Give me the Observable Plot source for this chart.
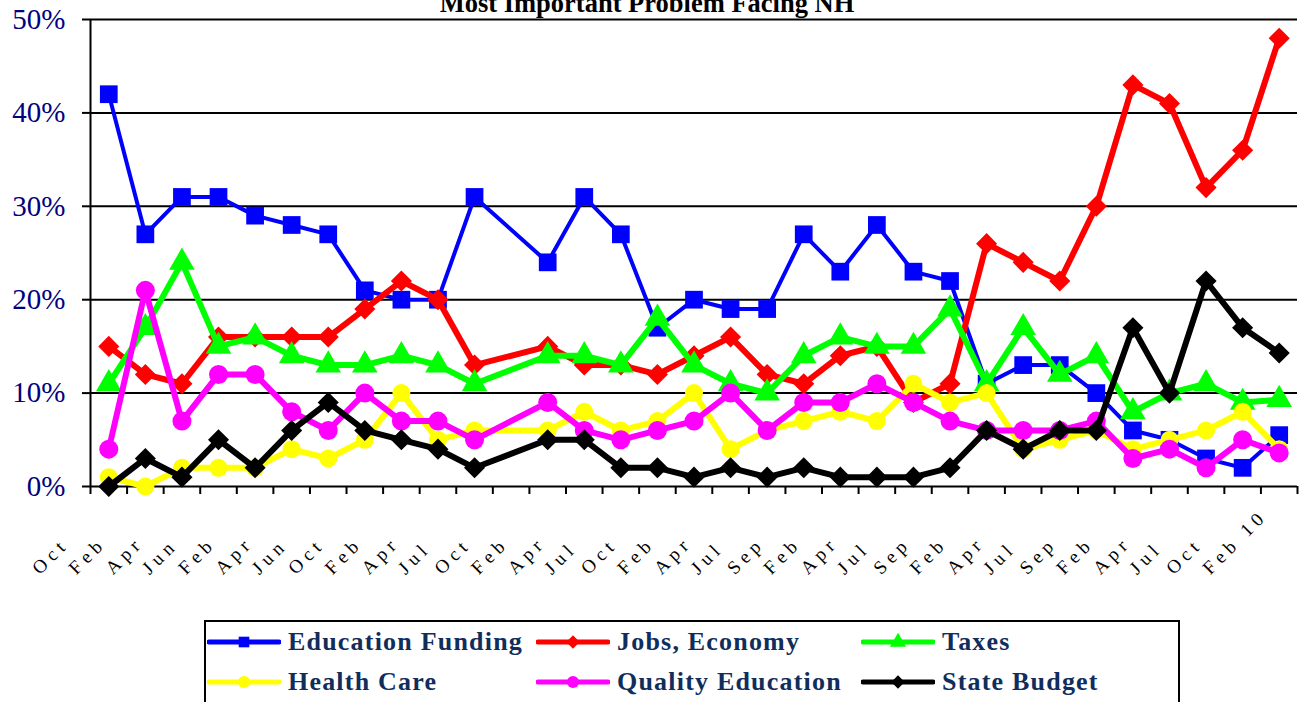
<!DOCTYPE html>
<html>
<head>
<meta charset="utf-8">
<script src="https://cdn.jsdelivr.net/npm/d3@7"></script>
<script src="https://cdn.jsdelivr.net/npm/@observablehq/plot@0.6"></script>
<style>
html, body { margin: 0; padding: 0; background: #fff; overflow: hidden; }
#wrap { position: relative; width: 1302px; height: 702px; }
#legend { position: absolute; left: 204px; top: 620px; width: 976px; height: 110px;
  border: 2px solid #000; box-sizing: border-box; background: #fff; }
.item { position: absolute; height: 40px; display: flex; align-items: center;
  font-family: "Liberation Serif", serif; font-weight: bold; font-size: 26px;
  letter-spacing: 1.2px; color: #102d5c; white-space: nowrap; }
.item svg { margin-right: 7px; }
</style>
</head>
<body>
<div id="wrap"><div id="chart"></div><div id="legend"></div></div>
<script>
// ---- data ----
const labels = ["Oct","Feb","Apr","Jun","Feb","Apr","Jun","Oct","Feb","Apr","Jul","Oct","Feb","Apr","Jul","Oct",
  "Feb","Apr","Jul","Sep","Feb","Apr","Jul","Sep","Feb","Apr","Jul","Sep","Feb","Apr","Jul","Oct","Feb 10"];
const seriesNames = ["Education Funding","Jobs, Economy","Taxes","Health Care","Quality Education","State Budget"];
const educationFunding = [42,27,31,31,29,28,27,21,20,20,31,null,24,31,27,17,20,19,19,27,23,28,23,22,11,13,13,10,6,5,3,2,5.5];
const jobsEconomy      = [15,12,11,16,16,16,16,19,22,20,13,null,15,13,13,12,14,16,12,11,14,15,9,11,26,24,22,30,43,41,32,36,48];
const taxes            = [11,17,24,15,16,14,13,13,14,13,11,null,14,14,13,18,13,11,10,14,16,15,15,19,11,17,12,14,8,10,11,9,9.3];
const healthCare       = [1,0,2,2,2,4,3,5,10,5,6,null,6,8,6,7,10,4,6,7,8,7,11,9,10,4,5,6,4,5,6,8,4];
const qualityEducation = [4,21,7,12,12,8,6,10,7,7,5,null,9,6,5,6,7,10,6,9,9,11,9,7,6,6,6,7,3,4,2,5,3.6];
const stateBudget      = [0,3,1,5,2,6,9,6,5,4,2,null,5,5,2,2,1,2,1,2,1,1,1,2,6,4,6,6,17,10,22,17,14.3];
const yTicks = [0,10,20,30,40,50];
const titleText = "Most Important Problem Facing NH";

// ---- styles ----
const seriesValues = [educationFunding, jobsEconomy, taxes, healthCare, qualityEducation, stateBudget];
const seriesColors = ["#0000ff","#ff0000","#00ff00","#ffff00","#ff00ff","#000000"];
const lineWidths   = [4, 6, 6, 6, 6, 6];
const symbols      = ["square","diamond2","triangle","circle","circle","diamond2"];
const radii        = [10, 9.5, 9.5, 9, 9.5, 9.5];

const xTicks = d3.range(labels.length + 1).map(i => i - 0.5);

const seriesMarks = seriesValues.flatMap((vals, s) => {
  const rows = vals.map((v, i) => ({i, v})).filter(d => d.v != null);
  return [
    Plot.line(rows, {x: "i", y: "v", stroke: seriesColors[s], strokeWidth: lineWidths[s], strokeLinejoin: "round", strokeLinecap: "round"}),
    Plot.dot(rows, {x: "i", y: "v", symbol: symbols[s], r: radii[s], fill: seriesColors[s], stroke: "none"})
  ];
});

const chart = Plot.plot({
  width: 1302,
  height: 612,
  marginLeft: 90,
  marginRight: 5,
  marginTop: 19,
  marginBottom: 126,
  style: {fontFamily: "Liberation Serif", background: "white", overflow: "visible"},
  x: {type: "linear", domain: [-0.5, labels.length - 0.5], label: null},
  y: {domain: [0, 50], label: null},
  marks: [
    Plot.ruleY(yTicks.filter(d => d > 0), {stroke: "#000", strokeWidth: 2}),
    Plot.ruleY([0], {stroke: "#000", strokeWidth: 2}),
    Plot.ruleX([-0.5], {y1: 0, y2: 50, stroke: "#000", strokeWidth: 2}),
    Plot.axisX(xTicks, {tickSize: 8, tickFormat: () => "", strokeWidth: 2, label: null}),
    Plot.axisY(yTicks, {tickSize: 8, tickFormat: () => "", strokeWidth: 2, label: null}),
    Plot.axisY(yTicks, {tickSize: 0, tickPadding: 25, tickFormat: d => d + "%", fontSize: 29,
      fontFamily: "Liberation Serif", color: "#000080", label: null}),
    ...seriesMarks,
    Plot.text(labels, {x: (d, i) => i, text: d => d, frameAnchor: "bottom", rotate: -45, textAnchor: "start",
      lineAnchor: "bottom", dx: -69, dy: 89, fontSize: 19, fontFamily: "Liberation Serif", fill: "#000"}),
    Plot.text([titleText], {frameAnchor: "top", dx: -47, dy: -8, lineAnchor: "bottom", fontSize: 26.5,
      fontWeight: "bold", fontFamily: "Liberation Serif", fill: "#000"})
  ]
});
document.getElementById("chart").appendChild(chart);

// spread the category labels' letters like the original
d3.select(chart).selectAll("text").filter(function () {
  return this.getAttribute("transform") && /rotate\(-45\)/.test(this.getAttribute("transform"));
}).style("letter-spacing", "5px");

// ---- legend ----
const legend = d3.select("#legend");
const colLeft = [1, 330, 655];
const rowTop = [0, 40];
seriesNames.forEach((name, s) => {
  const item = legend.append("div").attr("class", "item")
    .style("left", colLeft[s % 3] + "px").style("top", rowTop[Math.floor(s / 3)] + "px");
  const sw = item.append("svg").attr("width", 74).attr("height", 24);
  sw.append("line").attr("x1", 2).attr("x2", 72).attr("y1", 12).attr("y2", 12)
    .attr("stroke", seriesColors[s]).attr("stroke-width", 5).attr("stroke-linecap", "round");
  const sym = {square: d3.symbolSquare, diamond2: d3.symbolDiamond2, triangle: d3.symbolTriangle, circle: d3.symbolCircle}[symbols[s]];
  sw.append("path").attr("transform", "translate(37,12)")
    .attr("d", d3.symbol(sym, Math.PI * 36)()).attr("fill", seriesColors[s]);
  item.append("span").text(name);
});
</script>
</body>
</html>
